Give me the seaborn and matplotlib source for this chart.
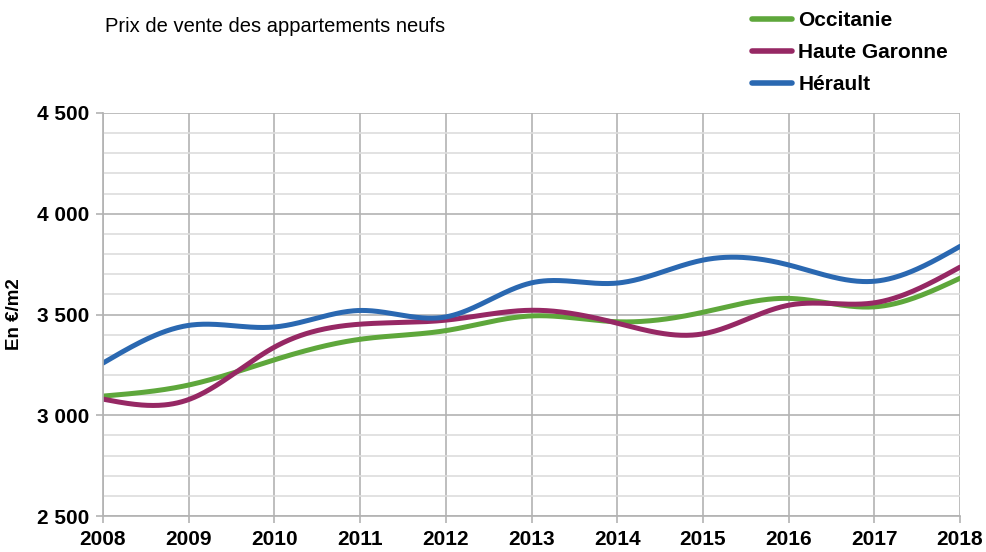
import numpy as np
import pandas as pd
import seaborn as sns
import matplotlib.pyplot as plt
from matplotlib.ticker import FuncFormatter, MultipleLocator

# donnees (prix en euros / m2)
annees = [2008, 2009, 2010, 2011, 2012, 2013, 2014, 2015, 2016, 2017, 2018]
occitanie = [3095, 3150, 3275, 3377, 3420, 3493, 3464, 3511, 3580, 3538, 3680]
haute_garonne = [3080, 3078, 3338, 3452, 3472, 3521, 3457, 3404, 3546, 3558, 3735]
herault = [3259, 3446, 3438, 3520, 3488, 3657, 3656, 3770, 3746, 3665, 3838]

series = ["Occitanie", "Haute Garonne", "Hérault"]
couleurs = ["#5ea73b", "#962864", "#2a68b1"]


def spline_naturelle(x, y, xs):
    # spline cubique naturelle, comme le lissage du tableur
    x = np.asarray(x, float)
    y = np.asarray(y, float)
    n = len(x)
    h = np.diff(x)
    A = np.zeros((n, n))
    r = np.zeros(n)
    A[0, 0] = 1
    A[-1, -1] = 1
    for i in range(1, n - 1):
        A[i, i - 1] = h[i - 1]
        A[i, i] = 2 * (h[i - 1] + h[i])
        A[i, i + 1] = h[i]
        r[i] = 3 * ((y[i + 1] - y[i]) / h[i] - (y[i] - y[i - 1]) / h[i - 1])
    c = np.linalg.solve(A, r)
    b = (y[1:] - y[:-1]) / h - h * (2 * c[:-1] + c[1:]) / 3
    d = (c[1:] - c[:-1]) / (3 * h)
    idx = np.clip(np.searchsorted(x, xs, side="right") - 1, 0, n - 2)
    dx = xs - x[idx]
    return y[idx] + b[idx] * dx + c[idx] * dx ** 2 + d[idx] * dx ** 3


xs = np.linspace(annees[0], annees[-1], 600)
frames = []
for nom, vals in zip(series, [occitanie, haute_garonne, herault]):
    frames.append(pd.DataFrame({"annee": xs, "prix": spline_naturelle(annees, vals, xs), "zone": nom}))
df = pd.concat(frames, ignore_index=True)

sns.set_theme(style="white")
plt.rcParams["font.family"] = ["Liberation Sans", "DejaVu Sans"]
plt.rcParams["text.color"] = "black"
plt.rcParams["xtick.color"] = "black"
plt.rcParams["ytick.color"] = "black"
plt.rcParams["axes.labelcolor"] = "black"

fig = plt.figure(figsize=(9.86, 5.52), dpi=100)
ax = fig.add_axes([103 / 986, 1 - 516 / 552, 857 / 986, 403 / 552])

sns.lineplot(data=df, x="annee", y="prix", hue="zone", hue_order=series,
             palette=couleurs, linewidth=3.6, ax=ax, legend=False)

ax.set_xlim(2008, 2018)
ax.set_ylim(2500, 4500)
ax.set_xticks(annees)
ax.yaxis.set_major_locator(MultipleLocator(500))
ax.yaxis.set_minor_locator(MultipleLocator(100))
ax.yaxis.set_major_formatter(FuncFormatter(lambda v, p: f"{int(v):,}".replace(",", " ")))

ax.grid(True, which="major", axis="both", color="#b3b3b3", linewidth=1.2)
ax.grid(True, which="minor", axis="y", color="#dddddd", linewidth=1.2)
ax.set_axisbelow(True)
for s in ax.spines.values():
    s.set_visible(False)
ax.spines["left"].set_visible(True)
ax.spines["left"].set_color("#b3b3b3")
ax.spines["bottom"].set_visible(True)
ax.spines["bottom"].set_color("#b3b3b3")

ax.tick_params(axis="both", which="major", length=5, width=1.2, color="#b3b3b3",
               labelcolor="black", labelsize=15, pad=5, direction="out",
               bottom=True, left=True)
ax.tick_params(axis="y", which="minor", length=0)
for lab in ax.get_xticklabels() + ax.get_yticklabels():
    lab.set_fontweight("bold")

ax.set_xlabel("")
ax.set_ylabel("En €/m2", fontsize=13.5, fontweight="bold")
ax.yaxis.set_label_coords(-0.093, 0.5)

fig.text(105 / 986, 1 - 27 / 552, "Prix de vente des appartements neufs",
         fontsize=14.5, ha="left", va="center")

handles = [plt.Line2D([0], [0], color=c, linewidth=4) for c in couleurs]
leg = fig.legend(handles, series, loc="upper left", bbox_to_anchor=(742 / 986, 1 - 1 / 552),
                 frameon=False, prop={"weight": "bold", "size": 15},
                 handlelength=1.9, handletextpad=0.3, labelspacing=0.62, borderpad=0)

fig.savefig("out.png", dpi=100)
